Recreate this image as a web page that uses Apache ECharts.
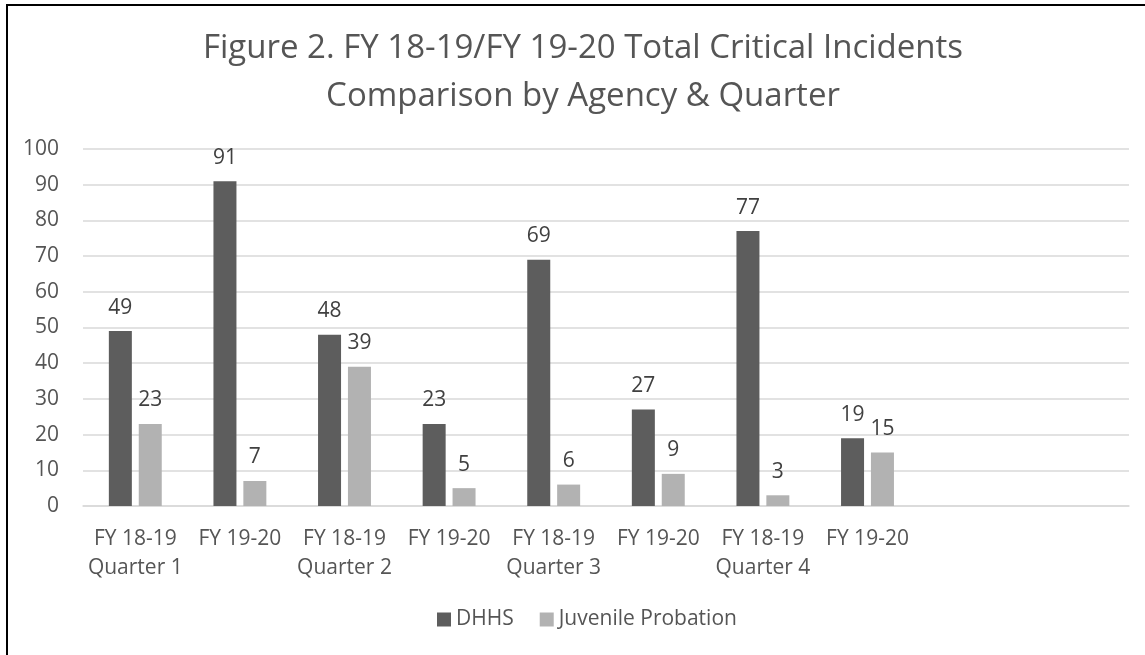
<!DOCTYPE html>
<html>
<head>
<meta charset="utf-8">
<script src="https://cdn.jsdelivr.net/npm/echarts@6/dist/echarts.min.js"></script>
<style>
  html, body { margin: 0; padding: 0; background: #fff; }
  #chart { width: 1145px; height: 655px; }
</style>
</head>
<body>
<div id="chart"></div>
<script>
const categories = [
    'FY 18-19\nQuarter 1', 'FY 19-20',
    'FY 18-19\nQuarter 2', 'FY 19-20',
    'FY 18-19\nQuarter 3', 'FY 19-20',
    'FY 18-19\nQuarter 4', 'FY 19-20',
    '', ''
]
const dhhs = [49, 91, 48, 23, 69, 27, 77, 19]
const juvenileProbation = [23, 7, 39, 5, 6, 9, 3, 15]
const seriesNames = ['DHHS', 'Juvenile Probation']
const titleLines = ['Figure 2. FY 18-19/FY 19-20 Total Critical Incidents', 'Comparison by Agency & Quarter']

const font = '"Open Sans", "Noto Sans", sans-serif'
const textColor = '#555555'

const chart = echarts.init(document.getElementById('chart'))

const labelStyle = {
    show: true,
    position: 'top',
    distance: 13,
    color: '#404040',
    fontSize: 21,
    fontFamily: font
}

const options = {
    backgroundColor: '#fff',
    animation: false,
    graphic: [
        {
            type: 'rect',
            shape: { x: 7, y: 5, width: 1300, height: 800 },
            style: { fill: 'none', stroke: '#000', lineWidth: 2 },
            silent: true
        },
        {
            type: 'text',
            x: 583,
            y: 25,
            style: {
                text: titleLines.join('\n'),
                fill: textColor,
                font: '33px ' + font,
                lineHeight: 48,
                align: 'center',
                verticalAlign: 'top'
            }
        }
    ],
    grid: {
        left: 83,
        right: 16,
        top: 149,
        bottom: 149,
        containLabel: false
    },
    legend: {
        data: seriesNames,
        left: 437,
        top: 609,
        padding: 0,
        icon: 'rect',
        itemWidth: 14,
        itemHeight: 14,
        itemGap: 26,
        textStyle: { color: textColor, fontSize: 21, fontFamily: font }
    },
    xAxis: {
        type: 'category',
        data: categories,
        axisTick: { show: false },
        axisLine: { lineStyle: { color: '#d9d9d9', width: 1.5 } },
        axisLabel: {
            interval: 0,
            margin: 19,
            color: textColor,
            fontSize: 21,
            lineHeight: 29,
            fontFamily: font
        }
    },
    yAxis: {
        type: 'value',
        min: 0,
        max: 100,
        interval: 10,
        axisLine: { show: false },
        axisTick: { show: false },
        splitLine: { lineStyle: { color: '#d9d9d9', width: 1.5 } },
        axisLabel: {
            margin: 24,
            color: textColor,
            fontSize: 21,
            fontFamily: font
        }
    },
    series: [
        {
            name: seriesNames[0],
            type: 'bar',
            data: dhhs,
            barWidth: 23,
            barGap: '30%',
            itemStyle: { color: '#5d5d5d' },
            label: labelStyle
        },
        {
            name: seriesNames[1],
            type: 'bar',
            data: juvenileProbation,
            barWidth: 23,
            itemStyle: { color: '#b2b2b2' },
            label: labelStyle
        }
    ]
}

chart.setOption(options)
</script>
</body>
</html>
